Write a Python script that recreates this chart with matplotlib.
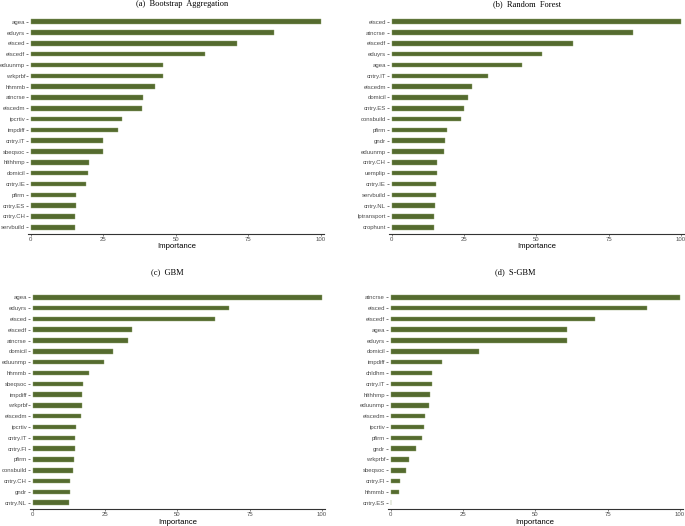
import matplotlib
matplotlib.use("Agg")
import matplotlib.pyplot as plt

# ---- data ----
bag_vars = ["agea", "eduyrs", "eisced", "eiscedf", "eduunmp", "wrkprbf", "hhmmb",
            "atncrse", "eiscedm", "ipcrtiv", "impdiff", "cntry.IT", "sbeqsoc",
            "hlthhmp", "domicil", "cntry.IE", "pfirm", "cntry.ES", "cntry.CH", "servbuild"]
bag_vals = [100, 83.8, 70.9, 60.0, 45.4, 45.4, 42.9, 38.7, 38.4, 31.5, 30.1, 24.9,
            24.8, 20.1, 19.7, 19.1, 15.6, 15.5, 15.3, 15.3]

rf_vars = ["eisced", "atncrse", "eiscedf", "eduyrs", "agea", "cntry.IT", "eiscedm",
           "domicil", "cntry.ES", "consbuild", "pfirm", "gndr", "eduunmp", "cntry.CH",
           "uemplip", "cntry.IE", "servbuild", "cntry.NL", "lptransport", "crophunt"]
rf_vals = [100, 83.3, 62.6, 52.0, 44.9, 33.2, 27.6, 26.4, 24.9, 23.8, 19.2, 18.3,
           18.2, 15.8, 15.6, 15.4, 15.3, 14.9, 14.7, 14.6]

gbm_vars = ["agea", "eduyrs", "eisced", "eiscedf", "atncrse", "domicil", "eduunmp",
            "hhmmb", "sbeqsoc", "impdiff", "wrkprbf", "eiscedm", "ipcrtiv", "cntry.IT",
            "cntry.FI", "pfirm", "consbuild", "cntry.CH", "gndr", "cntry.NL"]
gbm_vals = [100, 68.0, 63.0, 34.3, 32.8, 27.8, 24.8, 19.5, 17.4, 17.2, 16.9, 16.6,
            15.0, 14.5, 14.5, 14.2, 13.8, 13.0, 13.0, 12.4]

sgbm_vars = ["atncrse", "eisced", "eiscedf", "agea", "eduyrs", "domicil", "impdiff",
             "chldhm", "cntry.IT", "hlthhmp", "eduunmp", "eiscedm", "ipcrtiv", "pfirm",
             "gndr", "wrkprbf", "sbeqsoc", "cntry.FI", "hhmmb", "cntry.ES"]
sgbm_vals = [100, 88.5, 70.6, 60.9, 60.8, 30.4, 17.6, 14.3, 14.2, 13.6, 13.1, 11.9,
             11.4, 10.9, 8.8, 6.2, 5.4, 3.3, 3.0, 0.0]

titles = ["(a)  Bootstrap  Aggregation", "(b)  Random  Forest", "(c)  GBM", "(d)  S-GBM"]
xticks = [0, 25, 50, 75, 100]

W, H = 685, 526
fig = plt.figure(figsize=(W / 100, H / 100), dpi=100)

BAR = "#556B2F"
XLIM = (-0.9, 101.1)
YLIM = (-0.6, 19.6)

# panel geometry in pixels
geoms = [
    (30.9, 320.9, 21.7, 227.3, 182, 4.5, 177, 247),
    (391.7, 681.0, 21.7, 227.3, 527, 4.5, 537, 247),
    (32.7, 322.0, 297.3, 502.7, 167, 272.5, 178, 522.5),
    (390.7, 680.0, 297.3, 502.7, 515, 272.5, 535, 522.5),
]
panels = [(bag_vars, bag_vals), (rf_vars, rf_vals), (gbm_vars, gbm_vals), (sgbm_vars, sgbm_vals)]

for (vars_, vals), (x0, x100, ytop, ybot, tx, ty, lx, ly), title in zip(panels, geoms, titles):
    sx = (x100 - x0) / 100.0
    left = x0 + XLIM[0] * sx
    right = x0 + XLIM[1] * sx
    sy = (ybot - ytop) / 19.0
    top = ytop - 0.6 * sy
    bottom = ybot + 0.6 * sy
    ax = fig.add_axes([left / W, 1 - bottom / H, (right - left) / W, (bottom - top) / H])
    n = len(vars_)
    pos = list(range(n - 1, -1, -1))
    ax.barh(pos, vals, height=0.42, color=BAR, edgecolor="#8DA36A", linewidth=0.3)
    ax.set_xlim(*XLIM)
    ax.set_ylim(*YLIM)
    ax.set_yticks(pos)
    ax.set_yticklabels(vars_, fontsize=4.3, color="#4D4D4D", family="Liberation Sans")
    ax.set_xticks(xticks)
    ax.set_xticklabels([str(t) for t in xticks], fontsize=4.3, color="#4D4D4D",
                       family="Liberation Sans")
    ax.tick_params(axis="both", length=1.4, width=0.5, color="#4D4D4D", pad=0.8)
    for s in ["top", "right", "left"]:
        ax.spines[s].set_visible(False)
    ax.spines["bottom"].set_color("#333333")
    ax.spines["bottom"].set_linewidth(0.8)
    fig.text(tx / W, 1 - ty / H, title, ha="center", va="center", fontsize=6,
             family="Liberation Serif", color="black")
    fig.text(lx / W, 1 - ly / H, "Importance", ha="center", va="center", fontsize=5.6,
             family="Liberation Sans", color="black")

fig.savefig("out.png", dpi=100, facecolor="white")
